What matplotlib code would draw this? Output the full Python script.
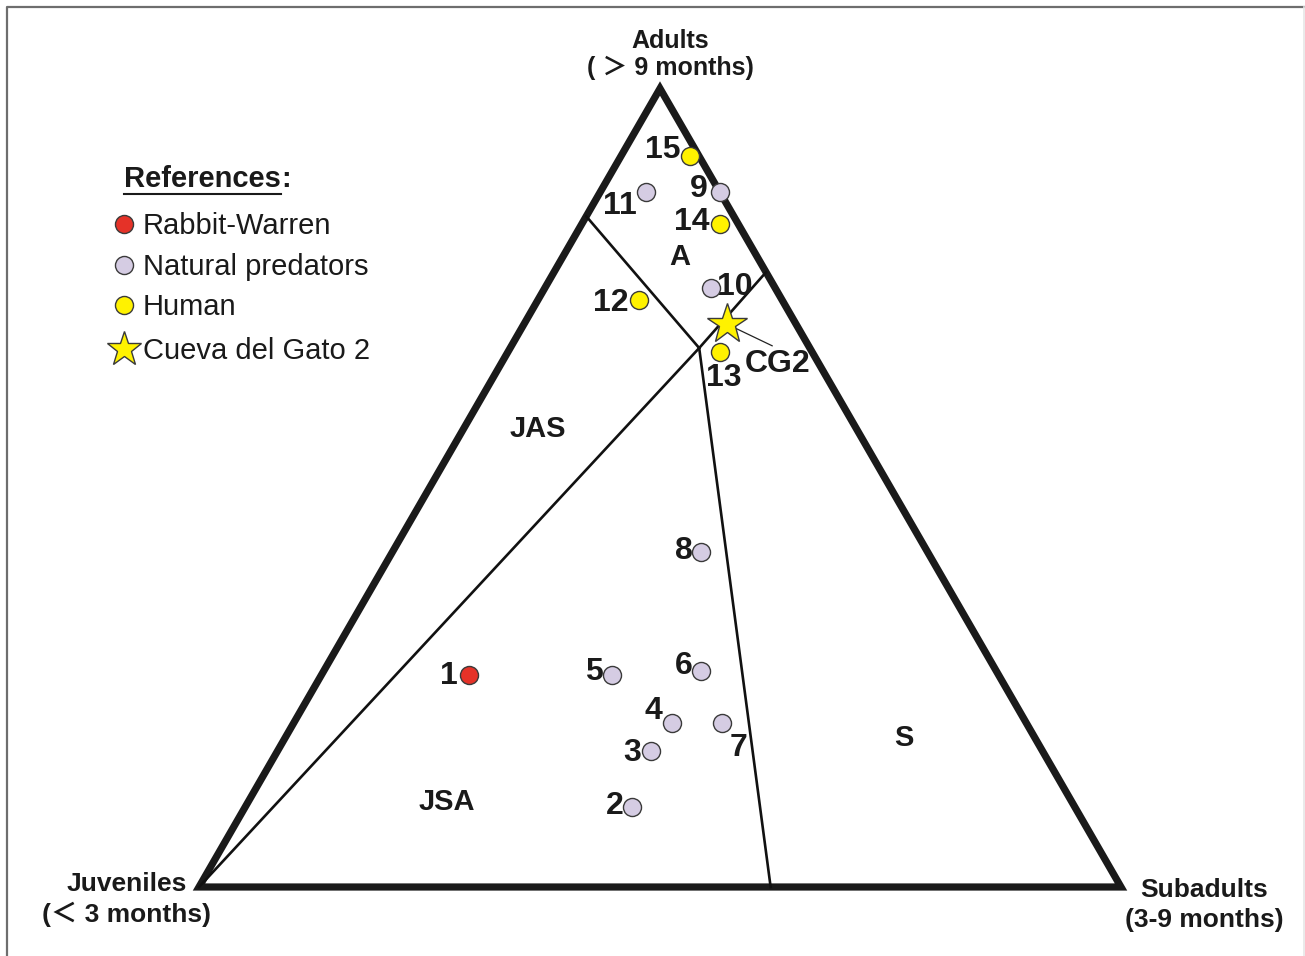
import numpy as np
import matplotlib.pyplot as plt
from matplotlib.lines import Line2D
from matplotlib.patches import Polygon

# Age-class composition (% juveniles, % subadults, % adults) for each assemblage
site_ids = ['1', '2', '3', '4', '5', '6', '7', '8', '9', '10', '11', '12', '13', '14', '15']
juv = [57.5, 48, 42.5, 38.5, 42, 32, 33, 24.5, 0, 7, 8, 15.5, 10, 2, 1]
sub = [16, 42, 40.5, 41, 31.5, 41, 46.5, 33.5, 13, 18, 5, 11, 23, 15, 7.5]
adu = [26.5, 10, 17, 20.5, 26.5, 27, 20.5, 42, 87, 75, 87, 73.5, 67, 83, 91.5]
group = ['warren', 'pred', 'pred', 'pred', 'pred', 'pred', 'pred', 'pred',
         'pred', 'pred', 'pred', 'human', 'human', 'human', 'human']

# Cueva del Gato 2
cg2_juv, cg2_sub, cg2_adu = 7.5, 22, 70.5

# Boundaries between the A, JAS, JSA and S fields
junction = (12, 20.5, 67.5)
left_edge = (16, 0, 84)
right_edge = (0, 23, 77)
base_edge = (38, 62, 0)
juv_corner = (100, 0, 0)

colors = {'warren': '#e53228', 'pred': '#d5cce3', 'human': '#fff200'}
legend_names = ['Rabbit-Warren', 'Natural predators', 'Human']

# label offsets in pixels (dx, dy, ha)
label_off = {
    '1': (-11, -1, 'right'), '2': (-9, 1, 'right'), '3': (-10, -2, 'right'),
    '4': (-9, 12, 'right'), '5': (-9, 3, 'right'), '6': (-9, 5, 'right'),
    '7': (7, -25, 'left'), '8': (-9, 1, 'right'), '9': (-12, 3, 'right'),
    '10': (6, 1, 'left'), '11': (-9, -14, 'right'), '12': (-11, -3, 'right'),
    '13': (-14, -26, 'left'), '14': (-10, 2, 'right'), '15': (-9, 6, 'right'),
}

SQ3 = np.sqrt(3) / 2


def tern(j, s, a):
    t = j + s + a
    return (s + a / 2) / t, a * SQ3 / t


plt.rcParams['font.family'] = ['Liberation Sans', 'Noto Sans CJK JP', 'DejaVu Sans']

W, H = 1305, 956
fig = plt.figure(figsize=(W / 100, H / 100), dpi=100)
ax = fig.add_axes([0, 0, 1, 1])
scale = 922
ax.set_xlim(-199 / scale, (W - 199) / scale)
ax.set_ylim(-(H - 887) / scale, 887 / scale)
ax.axis('off')


def px(x, y):
    return x / W, 1 - y / H


# frame around the figure
fig.add_artist(Line2D([7 / W, 7 / W, 1], [0, 1 - 7 / H, 1 - 7 / H], color='#6e6e6e', lw=1.6))
fig.add_artist(Line2D([1303.5 / W, 1303.5 / W], [0, 1 - 7 / H], color='#e6e6e6', lw=1.2))

# triangle outline
tri = [tern(100, 0, 0), tern(0, 100, 0), tern(0, 0, 100)]
ax.add_patch(Polygon(tri, closed=True, fill=False, edgecolor='#1a1a1a', lw=5.2,
                     joinstyle='miter', zorder=2))

# field boundaries
for p in [left_edge, right_edge, base_edge, juv_corner]:
    x0, y0 = tern(*junction)
    x1, y1 = tern(*p)
    ax.plot([x0, x1], [y0, y1], color='#111111', lw=1.9, zorder=2)

# field labels
for name, pos in [('A', (8.4, 12.7, 78.9)), ('JAS', (34.6, 8.1, 57.3)),
                  ('JSA', (67.8, 21.6, 10.6)), ('S', (14.2, 67.1, 18.7))]:
    x, y = tern(*pos)
    ax.text(x, y, name, fontsize=21, fontweight='bold', ha='center', va='center', color='#1a1a1a')

# sample points
for i, sid in enumerate(site_ids):
    x, y = tern(juv[i], sub[i], adu[i])
    ax.plot(x, y, 'o', ms=13, mfc=colors[group[i]], mec='#3a3a3a', mew=1.0, zorder=4)
    dx, dy, ha = label_off[sid]
    ax.annotate(sid, (x, y), xytext=(dx, dy), textcoords='offset pixels',
                fontsize=23, fontweight='bold', ha=ha, va='center', color='#1a1a1a')

# Cueva del Gato 2
sx, sy = tern(cg2_juv, cg2_sub, cg2_adu)
ax.annotate('', xy=(sx, sy), xytext=(48, -23), textcoords='offset pixels',
            arrowprops=dict(arrowstyle='-', color='#222222', lw=0.9))
ax.plot(sx, sy, '*', ms=30, mfc='#fff200', mec='#3a3a3a', mew=1.0, zorder=5)
ax.annotate('CG2', (sx, sy), xytext=(18, -40), textcoords='offset pixels',
            fontsize=23, fontweight='bold', ha='left', va='center', color='#1a1a1a')

# vertex titles
vfont = dict(fontweight='bold', ha='center', va='center', color='#1a1a1a')
fig.text(*px(670, 41), 'Adults', fontsize=18, **vfont)
fig.text(*px(670, 68), '( ＞ 9 months)', fontsize=18, **vfont)
fig.text(*px(127, 884), 'Juveniles', fontsize=19, **vfont)
fig.text(*px(127, 914), '(＜ 3 months)', fontsize=19, **vfont)
fig.text(*px(1204, 890), 'Subadults', fontsize=19, **vfont)
fig.text(*px(1204, 920), '(3-9 months)', fontsize=19, **vfont)

# legend
head = fig.text(*px(124, 179), 'References', fontsize=21, fontweight='bold',
                ha='left', va='center', color='#1a1a1a')
fig.canvas.draw()
bb = head.get_window_extent()
fig.text(bb.x1 / W, 1 - 179 / H, ':', fontsize=21, fontweight='bold',
         ha='left', va='center', color='#1a1a1a')
fig.add_artist(Line2D([bb.x0 / W, bb.x1 / W], [(bb.y0 - 1) / H] * 2, color='#1a1a1a', lw=1.5))

for k, (name, yy) in enumerate(zip(legend_names, [224, 265, 305])):
    fig.add_artist(Line2D([124 / W], [1 - yy / H], marker='o', ms=13,
                          mfc=colors[['warren', 'pred', 'human'][k]], mec='#3a3a3a', mew=1.0))
    fig.text(*px(143, yy + 2), name, fontsize=21, ha='left', va='center', color='#1a1a1a')
fig.add_artist(Line2D([124 / W], [1 - 349 / H], marker='*', ms=26,
                      mfc='#fff200', mec='#3a3a3a', mew=1.0))
fig.text(*px(143, 351), 'Cueva del Gato 2', fontsize=21, ha='left', va='center', color='#1a1a1a')

fig.savefig('out.png', dpi=100, facecolor='white')
